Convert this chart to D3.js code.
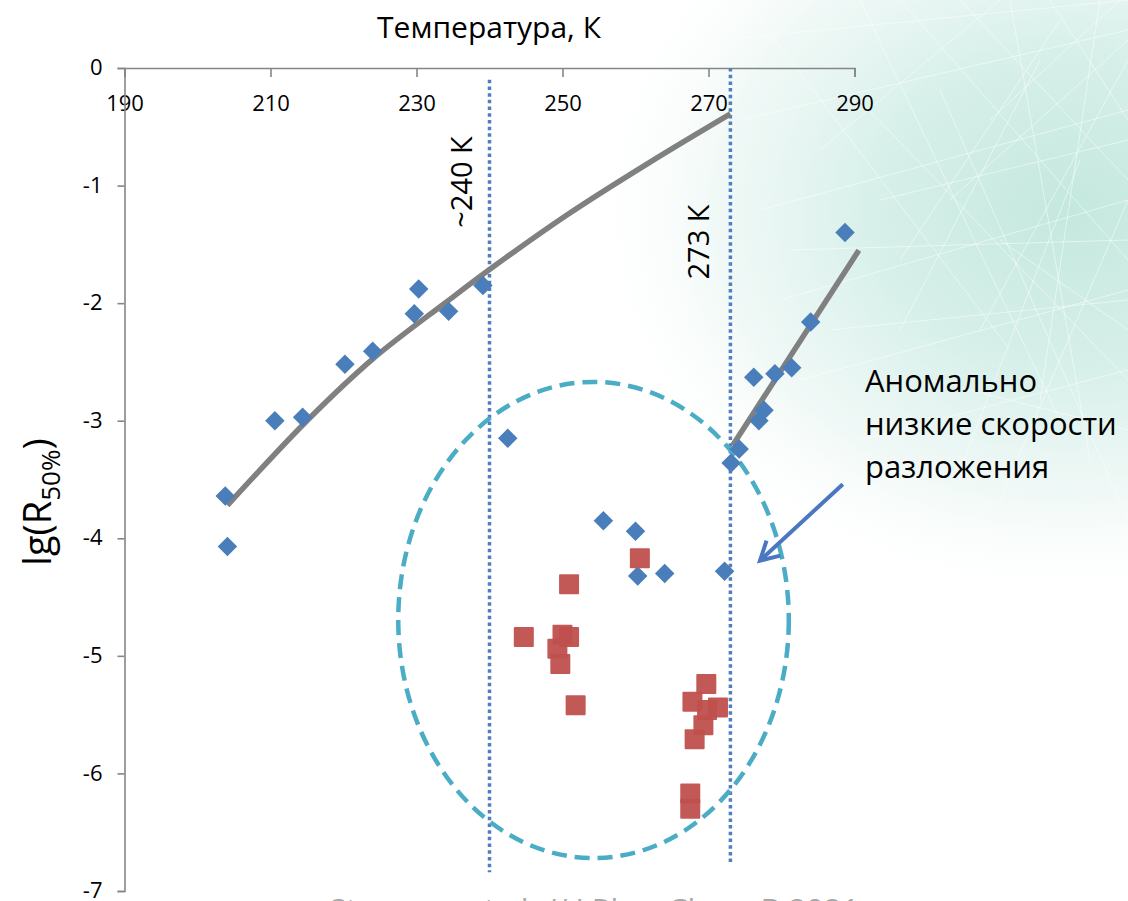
<!DOCTYPE html>
<html>
<head>
<meta charset="utf-8">
<script src="https://cdn.jsdelivr.net/npm/d3@7"></script>
<style>
  body { margin: 0; background: #fff; }
  svg { display: block; font-family: "Open Sans", "Noto Sans", sans-serif; }
</style>
</head>
<body>
<script>
// Axis ticks
const xTicks = [190, 210, 230, 250, 270, 290];
const yTicks = [0, -1, -2, -3, -4, -5, -6, -7];

// Decomposition rate, blue series (normal)
const blueT  = [203.8, 204.1, 210.6, 214.4, 220.2, 224.0, 229.7, 230.3, 234.4, 239.1, 242.5,
                255.6, 260.0, 260.3, 264.0, 272.2,
                273.1, 274.2, 276.9, 277.6, 276.2, 279.1, 281.4, 284.0, 288.7];
const blueLg = [-3.64, -4.07, -3.00, -2.97, -2.52, -2.41, -2.09, -1.88, -2.07, -1.85, -3.15,
                -3.85, -3.94, -4.32, -4.30, -4.28,
                -3.36, -3.24, -3.00, -2.91, -2.63, -2.60, -2.55, -2.16, -1.40];

// Decomposition rate, red series (anomalous)
const redT  = [260.6, 250.9, 244.7, 250.0, 250.9, 249.3, 249.7, 251.8,
               269.7, 267.8, 269.8, 271.3, 269.3, 268.1, 267.5, 267.5];
const redLg = [-4.17, -4.39, -4.84, -4.82, -4.84, -4.94, -5.07, -5.42,
               -5.24, -5.39, -5.46, -5.44, -5.59, -5.71, -6.17, -6.30];

// Trend lines below and above the ice melting point
const fitColdT  = [204.1, 215.0, 224.1, 234.1, 240.1, 250.6, 262.0, 273.0];
const fitColdLg = [-3.72, -3.00, -2.47, -1.99, -1.71, -1.25, -0.80, -0.39];
const fitWarmT  = [273.3, 290.6];
const fitWarmLg = [-3.21, -1.55];

// Characteristic temperatures
const markT      = [240, 273];
const markTop    = [-0.1, 0];
const markBottom = [-6.84, -6.76];
const markLabels = ["~240 К", "273 К"];

// Region of anomalously low rates (temperature / lg bounds)
const regionT  = [227.5, 281.0];
const regionLg = [-2.67, -6.72];

// Annotation arrow (from, to)
const arrowT  = [288.4, 277.05];
const arrowLg = [-3.54, -4.19];
const noteLines = ["Аномально", "низкие скорости", "разложения"];

const W = 1128, H = 901;
const x = d3.scaleLinear().domain([190, 290]).range([124.5, 854.5]);
const y = d3.scaleLinear().domain([0, -7]).range([68, 891]);

const svg = d3.select("body").append("svg").attr("width", W).attr("height", H);
const defs = svg.append("defs");

// ---- background wash with a light mesh
const grad = defs.append("radialGradient").attr("id", "wash");
[[0, "#c4e8de", 1], [0.4, "#d5efe8", 0.95], [0.72, "#eaf6f3", 0.7], [1, "#ffffff", 0]]
  .forEach(([o, c, a]) => grad.append("stop").attr("offset", o).attr("stop-color", c).attr("stop-opacity", a));
svg.append("rect").attr("width", W).attr("height", H).attr("fill", "#fff");
svg.append("ellipse").attr("cx", 1070).attr("cy", 210).attr("rx", 490).attr("ry", 400).attr("fill", "url(#wash)");

const mesh = [
  [720, 40, 1128, 0], [740, 120, 1128, 30], [760, 210, 1128, 110], [780, 300, 1128, 200],
  [800, 380, 1128, 290], [860, 440, 1128, 370], [900, 0, 1128, 260], [960, 0, 1128, 180],
  [860, 0, 1060, 420], [1010, 0, 1090, 460], [1100, 0, 1040, 400], [940, 90, 1128, 520],
  [880, 200, 1128, 140], [900, 260, 1060, 20], [980, 330, 1128, 60], [820, 150, 1000, 0],
  [1050, 0, 1128, 120], [930, 380, 1128, 430], [1000, 240, 1128, 330], [760, 20, 1010, 350],
  [1080, 160, 960, 470], [1128, 200, 1000, 500], [850, 90, 1128, 380], [990, 120, 1120, 0],
  [790, 250, 1128, 240], [830, 330, 1128, 300], [1040, 60, 900, 330], [1128, 40, 950, 200]
];
svg.append("g").selectAll("line").data(mesh).join("line")
  .attr("x1", d => d[0]).attr("y1", d => d[1]).attr("x2", d => d[2]).attr("y2", d => d[3])
  .attr("stroke", "#ffffff").attr("stroke-width", 1).attr("stroke-opacity", 0.5);

// ---- axes
const axisColor = "#868686";
const gx = svg.append("g").attr("transform", `translate(0,${y(0)})`)
  .call(d3.axisBottom(x).tickValues(xTicks).tickSize(9).tickPadding(18).tickFormat(d3.format("d")));
const gy = svg.append("g").attr("transform", `translate(${x(190)},0)`)
  .call(d3.axisLeft(y).tickValues(yTicks).tickSize(7).tickPadding(15).tickFormat(d => d === 0 ? "0" : "-" + Math.abs(d)));
[gx, gy].forEach(g => {
  g.select(".domain").attr("stroke", axisColor).attr("stroke-width", 1.6);
  g.selectAll(".tick line").attr("stroke", axisColor).attr("stroke-width", 1.6);
  g.selectAll(".tick text").attr("fill", "#000").attr("font-size", 22)
    .attr("font-family", "\"Open Sans\", sans-serif");
});
gy.selectAll(".tick text").attr("dy", "0.3em");

// Axis titles
svg.append("text").attr("x", 489).attr("y", 38).attr("text-anchor", "middle")
  .attr("font-size", 30).attr("fill", "#000").text("Температура, К");
const yt = svg.append("text").attr("transform", "translate(51,502) rotate(-90)")
  .attr("text-anchor", "middle").attr("font-size", 38).attr("fill", "#000");
yt.append("tspan").text("lg(R");
yt.append("tspan").attr("font-size", 26).attr("dy", 9).text("50%");
yt.append("tspan").attr("dy", -9).text(")");

// ---- characteristic temperature lines
const markG = svg.append("g");
markT.forEach((t, i) => {
  markG.append("line")
    .attr("x1", x(t)).attr("x2", x(t)).attr("y1", y(markTop[i])).attr("y2", y(markBottom[i]))
    .attr("stroke", "#4f7fc0").attr("stroke-width", 3.5).attr("stroke-dasharray", "3.5,3.2");
});
const markLabelPos = [[-18, 182], [-21, 242]];
markT.forEach((t, i) => {
  markG.append("text")
    .attr("transform", `translate(${x(t) + markLabelPos[i][0]},${markLabelPos[i][1]}) rotate(-90)`)
    .attr("text-anchor", "middle").attr("font-size", 29).attr("fill", "#000").text(markLabels[i]);
});

// ---- anomalous region outline
svg.append("ellipse")
  .attr("cx", (x(regionT[0]) + x(regionT[1])) / 2)
  .attr("cy", (y(regionLg[0]) + y(regionLg[1])) / 2)
  .attr("rx", (x(regionT[1]) - x(regionT[0])) / 2)
  .attr("ry", (y(regionLg[1]) - y(regionLg[0])) / 2)
  .attr("fill", "none").attr("stroke", "#4bacc6").attr("stroke-width", 4.5)
  .attr("stroke-dasharray", "15,8");

// ---- trend lines
const line = d3.line().curve(d3.curveCatmullRom.alpha(0.5));
const trendG = svg.append("g").attr("fill", "none").attr("stroke", "#808080")
  .attr("stroke-width", 5.5).attr("stroke-linecap", "butt");
trendG.append("path").attr("d", line(fitColdT.map((t, i) => [x(t), y(fitColdLg[i])])));
trendG.append("path").attr("d", line(fitWarmT.map((t, i) => [x(t), y(fitWarmLg[i])])));

// ---- points
svg.append("g").selectAll("path").data(blueT).join("path")
  .attr("d", d3.symbol(d3.symbolSquare, 190)())
  .attr("transform", (t, i) => `translate(${x(t)},${y(blueLg[i])}) rotate(45)`)
  .attr("fill", "#4a7ebb");
svg.append("g").selectAll("rect").data(redT).join("rect")
  .attr("x", t => x(t) - 10).attr("y", (t, i) => y(redLg[i]) - 10)
  .attr("width", 20).attr("height", 20).attr("rx", 1)
  .attr("fill", "#c0504d").attr("fill-opacity", 0.95);

// ---- annotation arrow and note
const ax1 = x(arrowT[0]), ay1 = y(arrowLg[0]), ax2 = x(arrowT[1]), ay2 = y(arrowLg[1]);
const ang = Math.atan2(ay2 - ay1, ax2 - ax1);
const headLen = 21, headAng = Math.PI / 6.2;
const arrowG = svg.append("g").attr("stroke", "#4a78c0").attr("stroke-width", 4)
  .attr("fill", "none").attr("stroke-linecap", "butt");
arrowG.append("line").attr("x1", ax1).attr("y1", ay1).attr("x2", ax2).attr("y2", ay2);
arrowG.append("path").attr("d", d3.line()([
  [ax2 - headLen * Math.cos(ang - headAng), ay2 - headLen * Math.sin(ang - headAng)],
  [ax2, ay2],
  [ax2 - headLen * Math.cos(ang + headAng), ay2 - headLen * Math.sin(ang + headAng)]
]));

svg.append("g").selectAll("text").data(noteLines).join("text")
  .attr("x", 865).attr("y", (d, i) => 392 + i * 43)
  .attr("font-size", 31).attr("fill", "#000").text(d => d);

// ---- source reference
svg.append("text").attr("x", 329).attr("y", 921).attr("font-size", 31)
  .attr("fill", "#a8a8a8").text("Stoporev et al. // J Phys Chem B 2021");
</script>
</body>
</html>
